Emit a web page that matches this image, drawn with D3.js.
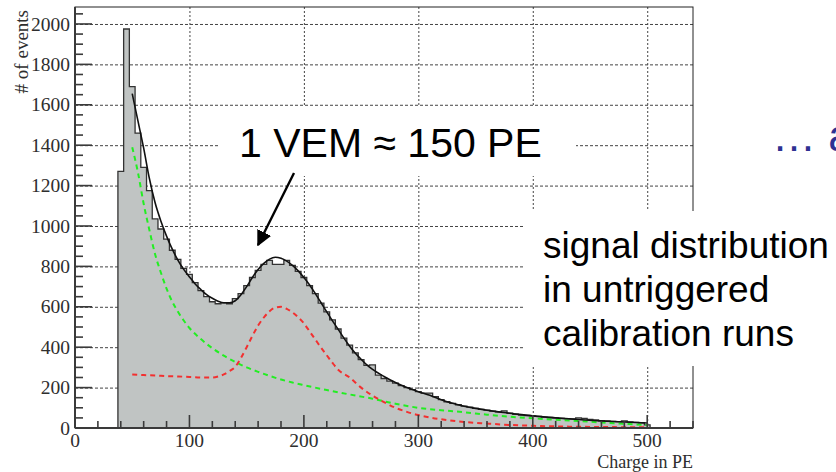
<!DOCTYPE html>
<html>
<head>
<meta charset="utf-8">
<script src="https://cdn.jsdelivr.net/npm/d3@7"></script>
<style>
  body { margin: 0; background: #fff; }
  svg { display: block; }
</style>
</head>
<body>
<script>
// Charge spectrum of untriggered calibration runs (histogram + fit components)

const width = 836;
const height = 472;

// histogram: 5 PE bins, centers 40..500
const binWidth = 5;
const binCenters = d3.range(40, 505, 5);
const counts = [
  1270, 1975, 1690, 1460, 1290, 1175, 1035, 985, 935, 880,
  835, 790, 760, 720, 680, 650, 625, 615, 620, 615,
  640, 665, 705, 745, 780, 810, 830, 810, 810, 830,
  805, 775, 745, 705, 665, 618, 575, 535, 490, 445,
  410, 372, 338, 310, 312, 262, 245, 232, 222, 210,
  200, 190, 180, 173, 173, 155, 140, 130, 122, 115,
  108, 103, 97, 92, 88, 84, 80, 85, 73, 68,
  64, 62, 60, 58, 54, 52, 50, 48, 46, 45,
  50, 48, 42, 40, 36, 35, 33, 32, 35, 30,
  28, 26, 15
];

// total fit (black)
const fitPE = [50, 55, 60, 65, 70, 75, 80, 85, 90, 95, 100, 105, 110, 115, 120, 125, 130, 135, 140, 145,
  150, 155, 160, 165, 170, 175, 180, 185, 190, 195, 200, 205, 210, 215, 220, 225, 230, 235, 240, 245,
  250, 255, 260, 270, 280, 290, 300, 310, 320, 330, 340, 350, 360, 370, 380, 390, 400, 420, 440, 460, 480, 500];
const fitN = [1655, 1520, 1385, 1235, 1115, 1025, 950, 885, 830, 785, 748, 713, 685, 660, 642, 628, 620, 620, 630, 660,
  700, 745, 785, 815, 836, 845, 840, 826, 805, 778, 745, 708, 665, 620, 575, 530, 488, 445, 405, 370,
  340, 312, 290, 255, 225, 200, 180, 162, 140, 122, 108, 97, 88, 80, 73, 66, 60, 50, 42, 35, 30, 25];

// background component (green, dashed)
const greenPE = [50, 55, 60, 65, 70, 75, 80, 85, 90, 95, 100, 110, 120, 130, 140, 150, 160, 170, 180, 190,
  200, 220, 240, 260, 280, 300, 320, 340, 360, 380, 400, 420, 440, 460, 480, 500];
const greenN = [1390, 1265, 1110, 980, 860, 770, 690, 625, 575, 532, 495, 440, 395, 358, 327, 300, 278, 258, 240, 225,
  212, 188, 166, 145, 120, 100, 88, 78, 66, 56, 48, 41, 35, 27, 21, 15];

// muon peak component (red, dashed)
const redPE = [50, 60, 70, 80, 90, 100, 110, 120, 125, 130, 135, 140, 145, 150, 155, 160, 165, 170, 175, 180,
  185, 190, 195, 200, 205, 210, 215, 220, 225, 230, 240, 250, 260, 270, 280, 290, 300, 310, 320, 340,
  360, 380, 400, 420, 440, 460, 480, 500];
const redN = [265, 262, 260, 257, 255, 253, 250, 250, 255, 265, 282, 303, 347, 400, 456, 507, 547, 578, 596, 600,
  590, 572, 548, 518, 478, 438, 398, 360, 322, 288, 250, 200, 160, 128, 100, 80, 64, 52, 43, 30,
  22, 15, 11, 8, 6, 5, 4, 3];

const xTicks = [0, 100, 200, 300, 400, 500];
const yTicks = [0, 200, 400, 600, 800, 1000, 1200, 1400, 1600, 1800, 2000];

const svg = d3.select("body").append("svg")
  .attr("width", width)
  .attr("height", height);

svg.append("rect").attr("width", width).attr("height", height).attr("fill", "#fff");

const x = d3.scaleLinear().domain([0, 540]).range([75, 693]);
const y = d3.scaleLinear().domain([0, 2084]).range([428, 7]);

const serif = "'Liberation Serif', 'DejaVu Serif', serif";
const sans = "'Liberation Sans', Arial, sans-serif";

// grid
const grid = svg.append("g").attr("stroke", "#444").attr("stroke-width", 1);
grid.selectAll("line.h").data(yTicks.filter(d => d > 0)).join("line")
  .attr("x1", x(0)).attr("x2", x(540))
  .attr("y1", d => y(d) + 0.5).attr("y2", d => y(d) + 0.5)
  .attr("stroke-dasharray", "3,2");
grid.selectAll("line.v").data(xTicks.filter(d => d > 0)).join("line")
  .attr("x1", d => x(d) + 0.5).attr("x2", d => x(d) + 0.5)
  .attr("y1", y(2084)).attr("y2", y(0))
  .attr("stroke-dasharray", "2,2");

// histogram as a step outline
let p = d3.path();
p.moveTo(x(binCenters[0] - binWidth / 2), y(0));
counts.forEach((c, i) => {
  p.lineTo(x(binCenters[i] - binWidth / 2), y(c));
  p.lineTo(x(binCenters[i] + binWidth / 2), y(c));
});
p.lineTo(x(binCenters[binCenters.length - 1] + binWidth / 2), y(0));
p.closePath();
svg.append("path")
  .attr("d", p.toString())
  .attr("fill", "#c0c4c3")
  .attr("stroke", "#333")
  .attr("stroke-width", 1.3);

const line = d3.line().x(d => x(d[0])).y(d => y(d[1])).curve(d3.curveMonotoneX);

svg.append("path")
  .attr("d", line(greenPE.map((d, i) => [d, greenN[i]])))
  .attr("fill", "none").attr("stroke", "#22ee22").attr("stroke-width", 2)
  .attr("stroke-dasharray", "5,4");
svg.append("path")
  .attr("d", line(redPE.map((d, i) => [d, redN[i]])))
  .attr("fill", "none").attr("stroke", "#f23030").attr("stroke-width", 2)
  .attr("stroke-dasharray", "5,4");
svg.append("path")
  .attr("d", line(fitPE.map((d, i) => [d, fitN[i]])))
  .attr("fill", "none").attr("stroke", "#111").attr("stroke-width", 1.6);

// frame (top/right thin)
svg.append("rect")
  .attr("x", x(0)).attr("y", y(2084))
  .attr("width", x(540) - x(0)).attr("height", y(0) - y(2084))
  .attr("fill", "none").attr("stroke", "#222").attr("stroke-width", 1);

// axes with inward ticks
const ax = svg.append("g").attr("stroke", "#3a3a3a").attr("stroke-width", 1.6);
ax.append("line").attr("x1", x(0)).attr("x2", x(0)).attr("y1", y(0)).attr("y2", y(2084)).attr("stroke-width", 2);
ax.append("line").attr("x1", x(0)).attr("x2", x(540)).attr("y1", y(0)).attr("y2", y(0)).attr("stroke-width", 2);

const yMinor = d3.range(0, 2084, 50);
ax.selectAll("line.ym").data(yMinor).join("line")
  .attr("x1", x(0)).attr("x2", d => x(0) + (d % 200 === 0 ? 17 : 8))
  .attr("y1", d => y(d)).attr("y2", d => y(d));
const xMinor = d3.range(0, 541, 20);
ax.selectAll("line.xm").data(xMinor).join("line")
  .attr("y1", y(0)).attr("y2", d => y(0) - (d % 100 === 0 ? 13 : 7))
  .attr("x1", d => x(d)).attr("x2", d => x(d));

// tick labels
svg.append("g").selectAll("text").data(yTicks).join("text")
  .attr("x", 70).attr("y", d => y(d))
  .attr("dy", "0.34em")
  .attr("text-anchor", "end")
  .attr("font-family", serif).attr("font-size", 19.5).attr("fill", "#2e2e2e")
  .text(d => d);
svg.append("g").selectAll("text").data(xTicks).join("text")
  .attr("x", d => x(d)).attr("y", 447)
  .attr("text-anchor", "middle")
  .attr("font-family", serif).attr("font-size", 19.5).attr("fill", "#2e2e2e")
  .text(d => d);

svg.append("text")
  .attr("transform", "translate(28,10) rotate(-90)")
  .attr("text-anchor", "end")
  .attr("font-family", serif).attr("font-size", 19).attr("fill", "#2e2e2e")
  .text("# of events");
svg.append("text")
  .attr("x", 693).attr("y", 468)
  .attr("text-anchor", "end")
  .attr("font-family", serif).attr("font-size", 18).attr("fill", "#2e2e2e")
  .text("Charge in PE");

// annotation boxes
svg.append("rect").attr("x", 220).attr("y", 107).attr("width", 356).attr("height", 69).attr("fill", "#fff");
svg.append("text")
  .attr("x", 239).attr("y", 157)
  .attr("font-family", sans).attr("font-size", 41).attr("fill", "#000")
  .text("1 VEM ≈ 150 PE");

svg.append("defs").append("marker")
  .attr("id", "ah").attr("viewBox", "0 0 10 10")
  .attr("refX", 9).attr("refY", 5)
  .attr("markerWidth", 6.5).attr("markerHeight", 6.5)
  .attr("markerUnits", "strokeWidth")
  .attr("orient", "auto")
  .append("path").attr("d", "M0,0 L10,5 L0,10 z").attr("fill", "#000");
svg.append("line")
  .attr("x1", 294).attr("y1", 173).attr("x2", 258).attr("y2", 245)
  .attr("stroke", "#000").attr("stroke-width", 2.4)
  .attr("marker-end", "url(#ah)");

svg.append("rect").attr("x", 525).attr("y", 211).attr("width", 311).attr("height", 155).attr("fill", "#fff");
const note = ["signal distribution", "in untriggered", "calibration runs"];
svg.append("g").selectAll("text").data(note).join("text")
  .attr("x", 543).attr("y", (d, i) => 258 + i * 44)
  .attr("font-family", sans).attr("font-size", 37).attr("fill", "#000")
  .text(d => d);

// partial slide text running off the right edge, as in the source
svg.append("text")
  .attr("x", 772).attr("y", 151)
  .attr("font-family", sans).attr("font-size", 44).attr("fill", "#2e3192")
  .text("… a");
</script>
</body>
</html>
